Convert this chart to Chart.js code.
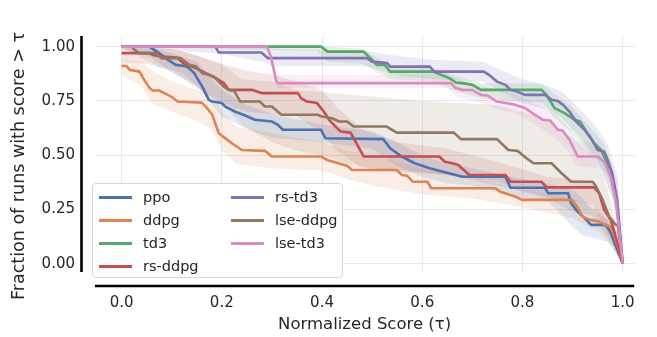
<!DOCTYPE html>
<html>
<head>
<meta charset="utf-8">
<script src="https://cdn.jsdelivr.net/npm/chart.js@4"></script>
<style>
  html, body { margin: 0; padding: 0; background: #fff; }
  #wrap { position: relative; width: 657px; height: 337px; }
  #legend {
    position: absolute; left: 92px; top: 183px; width: 251px; height: 95px;
    box-sizing: border-box; border: 1px solid #d6d6d6; border-radius: 4px;
    background: rgba(255, 255, 255, 0.9);
    font-family: "DejaVu Sans", sans-serif; font-size: 14.5px; color: #262626;
  }
  .item { position: absolute; height: 20px; display: flex; align-items: center; white-space: nowrap; }
  .item i { display: inline-block; width: 33px; height: 3px; margin-right: 11px; }
  #ytitle {
    position: absolute; left: 18px; top: 166px; white-space: nowrap;
    font-family: "DejaVu Sans", sans-serif; font-size: 17.5px; color: #262626;
    transform: translate(-50%, -50%) rotate(-90deg);
  }
</style>
</head>
<body>
<div id="wrap">
  <canvas id="chart" width="657" height="337"></canvas>
  <div id="ytitle">Fraction of runs with score &gt; τ</div>
  <div id="legend"></div>
</div>
<script>
const labels = ["ppo", "ddpg", "td3", "rs-ddpg", "rs-td3", "lse-ddpg", "lse-td3"];
const colors = ["#4c72b0", "#dd8452", "#55a868", "#c44e52", "#8172b3", "#937860", "#da8bc3"];

const xTicks = [0, 0.2, 0.4, 0.6, 0.8, 1.0];
const yTicks = [0, 0.25, 0.5, 0.75, 1.0];

// [tau, fraction]
const ppo = [[0,1],[0.055,1],[0.062,0.99],[0.075,0.97],[0.092,0.94],[0.108,0.916],[0.128,0.91],[0.135,0.9],[0.145,0.878],[0.161,0.816],[0.174,0.755],[0.181,0.747],[0.2,0.74],[0.207,0.724],[0.227,0.7],[0.243,0.686],[0.266,0.663],[0.3,0.655],[0.312,0.64],[0.322,0.617],[0.398,0.617],[0.407,0.578],[0.522,0.574],[0.536,0.532],[0.559,0.494],[0.585,0.463],[0.615,0.44],[0.628,0.432],[0.667,0.409],[0.68,0.401],[0.766,0.401],[0.776,0.35],[0.845,0.35],[0.851,0.325],[0.891,0.325],[0.897,0.279],[0.91,0.24],[0.924,0.21],[0.937,0.179],[0.966,0.179],[0.975,0.148],[1,0]];
const ddpg = [[0,0.911],[0.01,0.911],[0.016,0.893],[0.036,0.885],[0.043,0.855],[0.056,0.809],[0.062,0.798],[0.075,0.798],[0.099,0.77],[0.112,0.747],[0.16,0.742],[0.168,0.724],[0.181,0.686],[0.194,0.601],[0.2,0.59],[0.22,0.555],[0.24,0.524],[0.286,0.52],[0.3,0.494],[0.398,0.494],[0.41,0.478],[0.45,0.451],[0.46,0.432],[0.549,0.432],[0.559,0.409],[0.57,0.405],[0.581,0.378],[0.61,0.378],[0.618,0.348],[0.746,0.348],[0.756,0.332],[0.785,0.31],[0.799,0.294],[0.899,0.294],[0.91,0.26],[0.92,0.217],[0.935,0.202],[0.953,0.194],[0.966,0.179],[0.976,0.171],[0.985,0.12],[1,0]];
const td3 = [[0,1],[0.398,1],[0.411,0.977],[0.483,0.977],[0.5,0.939],[0.509,0.916],[0.525,0.916],[0.536,0.885],[0.621,0.885],[0.638,0.87],[0.654,0.855],[0.667,0.835],[0.68,0.832],[0.7,0.824],[0.717,0.801],[0.838,0.801],[0.848,0.778],[0.858,0.74],[0.864,0.717],[0.884,0.694],[0.904,0.663],[0.915,0.655],[0.927,0.609],[0.943,0.555],[0.957,0.524],[0.966,0.478],[0.976,0.432],[0.986,0.325],[1,0]];
const rsDdpg = [[0,0.97],[0.056,0.97],[0.062,0.962],[0.082,0.954],[0.11,0.95],[0.128,0.916],[0.148,0.901],[0.168,0.878],[0.185,0.86],[0.204,0.832],[0.214,0.801],[0.26,0.801],[0.279,0.786],[0.352,0.786],[0.358,0.763],[0.37,0.747],[0.39,0.74],[0.404,0.7],[0.414,0.663],[0.427,0.632],[0.437,0.609],[0.457,0.604],[0.483,0.494],[0.634,0.494],[0.645,0.47],[0.66,0.463],[0.672,0.455],[0.694,0.409],[0.766,0.409],[0.776,0.378],[0.838,0.378],[0.848,0.352],[0.943,0.352],[0.953,0.325],[0.963,0.248],[0.976,0.202],[0.983,0.15],[1,0]];
const rsTd3 = [[0,1],[0.187,1],[0.194,0.973],[0.279,0.973],[0.292,0.947],[0.49,0.947],[0.5,0.931],[0.53,0.924],[0.536,0.908],[0.615,0.908],[0.624,0.885],[0.723,0.885],[0.733,0.87],[0.749,0.839],[0.766,0.824],[0.776,0.801],[0.789,0.793],[0.805,0.778],[0.845,0.778],[0.858,0.755],[0.87,0.75],[0.881,0.732],[0.894,0.7],[0.907,0.655],[0.924,0.617],[0.937,0.578],[0.95,0.524],[0.963,0.517],[0.97,0.478],[0.979,0.417],[0.989,0.294],[1,0]];
const lseDdpg = [[0,1],[0.02,1],[0.026,0.985],[0.036,0.97],[0.07,0.97],[0.079,0.947],[0.118,0.947],[0.135,0.916],[0.148,0.91],[0.161,0.878],[0.175,0.87],[0.187,0.855],[0.204,0.816],[0.214,0.801],[0.225,0.795],[0.237,0.747],[0.276,0.747],[0.286,0.724],[0.3,0.724],[0.319,0.686],[0.391,0.686],[0.4,0.678],[0.42,0.67],[0.434,0.655],[0.45,0.655],[0.463,0.632],[0.529,0.632],[0.549,0.604],[0.663,0.604],[0.677,0.574],[0.749,0.574],[0.772,0.524],[0.79,0.52],[0.808,0.486],[0.822,0.463],[0.858,0.463],[0.878,0.417],[0.897,0.378],[0.94,0.378],[0.945,0.363],[0.96,0.294],[0.973,0.217],[0.986,0.179],[0.99,0.179],[1,0]];
const lseTd3 = [[0,1],[0.29,1],[0.298,0.954],[0.309,0.839],[0.312,0.832],[0.657,0.832],[0.667,0.809],[0.68,0.801],[0.7,0.8],[0.717,0.778],[0.73,0.775],[0.749,0.747],[0.785,0.732],[0.805,0.717],[0.825,0.686],[0.841,0.663],[0.855,0.66],[0.871,0.617],[0.88,0.614],[0.894,0.57],[0.91,0.494],[0.95,0.494],[0.963,0.47],[0.976,0.401],[0.986,0.294],[1,0]];

// confidence bands: [tau, low, high]
const ppoBand = [[0,0.99,1],[0.06,0.95,1],[0.1,0.88,0.97],[0.15,0.82,0.93],[0.2,0.68,0.8],[0.25,0.62,0.73],[0.3,0.58,0.69],[0.4,0.56,0.64],[0.5,0.53,0.61],[0.55,0.45,0.56],[0.6,0.4,0.5],[0.65,0.37,0.46],[0.7,0.36,0.44],[0.78,0.31,0.4],[0.85,0.29,0.37],[0.9,0.17,0.34],[0.92,0.13,0.3],[0.94,0.12,0.25],[0.97,0.1,0.2],[1,0,0.02]];
const ddpgBand = [[0,0.87,0.94],[0.04,0.82,0.93],[0.06,0.74,0.89],[0.1,0.7,0.84],[0.15,0.66,0.8],[0.18,0.62,0.78],[0.2,0.52,0.7],[0.23,0.46,0.63],[0.3,0.44,0.6],[0.4,0.43,0.56],[0.45,0.39,0.52],[0.5,0.36,0.5],[0.6,0.32,0.44],[0.7,0.3,0.4],[0.8,0.26,0.34],[0.9,0.21,0.3],[0.95,0.15,0.25],[0.98,0.08,0.18],[1,0,0.02]];
const td3Band = [[0,1,1],[0.39,0.98,1],[0.41,0.93,1],[0.48,0.92,0.99],[0.51,0.88,0.95],[0.54,0.85,0.91],[0.62,0.84,0.9],[0.66,0.8,0.87],[0.72,0.76,0.83],[0.84,0.74,0.83],[0.86,0.68,0.79],[0.9,0.6,0.72],[0.93,0.52,0.64],[0.96,0.42,0.56],[0.98,0.3,0.45],[1,0,0.03]];
const rsDdpgBand = [[0,0.93,1],[0.05,0.92,0.99],[0.1,0.89,0.99],[0.15,0.81,0.96],[0.2,0.74,0.92],[0.25,0.7,0.89],[0.3,0.69,0.87],[0.35,0.68,0.84],[0.4,0.6,0.8],[0.43,0.52,0.72],[0.48,0.44,0.62],[0.55,0.43,0.56],[0.65,0.41,0.53],[0.75,0.36,0.47],[0.85,0.31,0.4],[0.94,0.27,0.38],[0.97,0.14,0.25],[1,0,0.02]];
const rsTd3Band = [[0,1,1],[0.19,0.97,1],[0.28,0.93,1],[0.3,0.91,0.99],[0.49,0.91,0.98],[0.54,0.87,0.96],[0.62,0.85,0.94],[0.72,0.84,0.93],[0.8,0.74,0.85],[0.85,0.71,0.82],[0.88,0.67,0.79],[0.92,0.57,0.7],[0.95,0.47,0.62],[0.97,0.4,0.55],[0.99,0.22,0.4],[1,0,0.02]];
const lseDdpgBand = [[0,1,1],[0.03,0.96,1],[0.08,0.9,0.99],[0.12,0.88,0.98],[0.16,0.8,0.95],[0.2,0.74,0.92],[0.24,0.64,0.85],[0.3,0.56,0.84],[0.35,0.52,0.8],[0.4,0.5,0.79],[0.45,0.46,0.78],[0.5,0.44,0.77],[0.55,0.42,0.76],[0.6,0.42,0.75],[0.68,0.4,0.74],[0.75,0.38,0.73],[0.8,0.33,0.7],[0.85,0.3,0.66],[0.9,0.24,0.58],[0.94,0.22,0.5],[0.97,0.12,0.35],[1,0,0.02]];
const lseTd3Band = [[0,1,1],[0.29,0.99,1],[0.31,0.81,0.87],[0.65,0.81,0.87],[0.67,0.77,0.85],[0.72,0.74,0.82],[0.75,0.71,0.8],[0.79,0.69,0.78],[0.84,0.62,0.72],[0.87,0.57,0.68],[0.89,0.52,0.63],[0.91,0.45,0.57],[0.95,0.44,0.55],[0.97,0.36,0.48],[0.99,0.22,0.38],[1,0,0.02]];

const curves = [ppo, ddpg, td3, rsDdpg, rsTd3, lseDdpg, lseTd3];
const bands = [ppoBand, ddpgBand, td3Band, rsDdpgBand, rsTd3Band, lseDdpgBand, lseTd3Band];

function rgba(hex, a) {
  const n = parseInt(hex.slice(1), 16);
  return `rgba(${n >> 16}, ${(n >> 8) & 255}, ${n & 255}, ${a})`;
}

const datasets = [];
bands.forEach((b, i) => {
  datasets.push({
    data: b.map(p => ({ x: p[0], y: p[1] })),
    borderColor: "rgba(0,0,0,0)", borderWidth: 1, pointRadius: 0, fill: false, order: 100
  });
  datasets.push({
    data: b.map(p => ({ x: p[0], y: p[2] })),
    borderColor: "rgba(0,0,0,0)", borderWidth: 1, pointRadius: 0,
    fill: "-1", backgroundColor: rgba(colors[i], 0.15), order: 100
  });
});
curves.forEach((c, i) => {
  datasets.push({
    label: labels[i],
    data: c.map(p => ({ x: p[0], y: p[1] })),
    borderColor: colors[i], borderWidth: 2.6, pointRadius: 0,
    borderJoinStyle: "round", fill: false, order: 7 - i
  });
});

// seaborn-style offset spines
const offsetSpines = {
  id: "offsetSpines",
  afterDraw(chart) {
    const { ctx, chartArea: a } = chart;
    ctx.save();
    ctx.strokeStyle = "#000";
    ctx.lineWidth = 2.6;
    ctx.beginPath();
    ctx.moveTo(a.left - 13.5, a.top);
    ctx.lineTo(a.left - 13.5, a.bottom);
    ctx.moveTo(a.left, a.bottom + 14);
    ctx.lineTo(a.right, a.bottom + 14);
    ctx.stroke();
    ctx.restore();
  }
};

const tickFont = { family: "DejaVu Sans", size: 15 };

new Chart(document.getElementById("chart"), {
  type: "line",
  data: { datasets },
  options: {
    responsive: false,
    animation: false,
    layout: { padding: { top: 36, right: 17, left: 0, bottom: 0 } },
    plugins: {
      legend: { display: false },
      tooltip: { enabled: false },
      filler: { drawTime: "beforeDatasetsDraw" }
    },
    elements: { line: { tension: 0 } },
    scales: {
      x: {
        type: "linear", min: -0.053, max: 1.023,
        afterFit: s => { s.height = 65; },
        afterBuildTicks: s => { s.ticks = xTicks.map(v => ({ value: v })); },
        ticks: { callback: v => v.toFixed(1), font: tickFont, color: "#262626", padding: 22, maxRotation: 0 },
        grid: { color: "#e8e8e8", lineWidth: 1, drawTicks: false },
        border: { display: false },
        title: { display: true, text: "Normalized Score (τ)", font: { family: "DejaVu Sans", size: 16.5 }, color: "#262626", padding: { top: 0, bottom: 2 } }
      },
      y: {
        type: "linear", min: -0.038, max: 1.049,
        afterFit: s => { s.width = 95; },
        afterBuildTicks: s => { s.ticks = yTicks.map(v => ({ value: v })); },
        ticks: { callback: v => v.toFixed(2), font: tickFont, color: "#262626", padding: 20 },
        grid: { color: "#e8e8e8", lineWidth: 1, drawTicks: false },
        border: { display: false }
      }
    }
  },
  plugins: [offsetSpines]
});

// legend laid out column-wise like the original (4 rows, 2 columns)
const legend = document.getElementById("legend");
labels.forEach((name, i) => {
  const col = Math.floor(i / 4), row = i % 4;
  const item = document.createElement("div");
  item.className = "item";
  item.style.left = (6 + col * 132) + "px";
  item.style.top = (3 + row * 23) + "px";
  item.innerHTML = `<i style="background:${colors[i]}"></i>${name}`;
  legend.appendChild(item);
});
</script>
</body>
</html>
